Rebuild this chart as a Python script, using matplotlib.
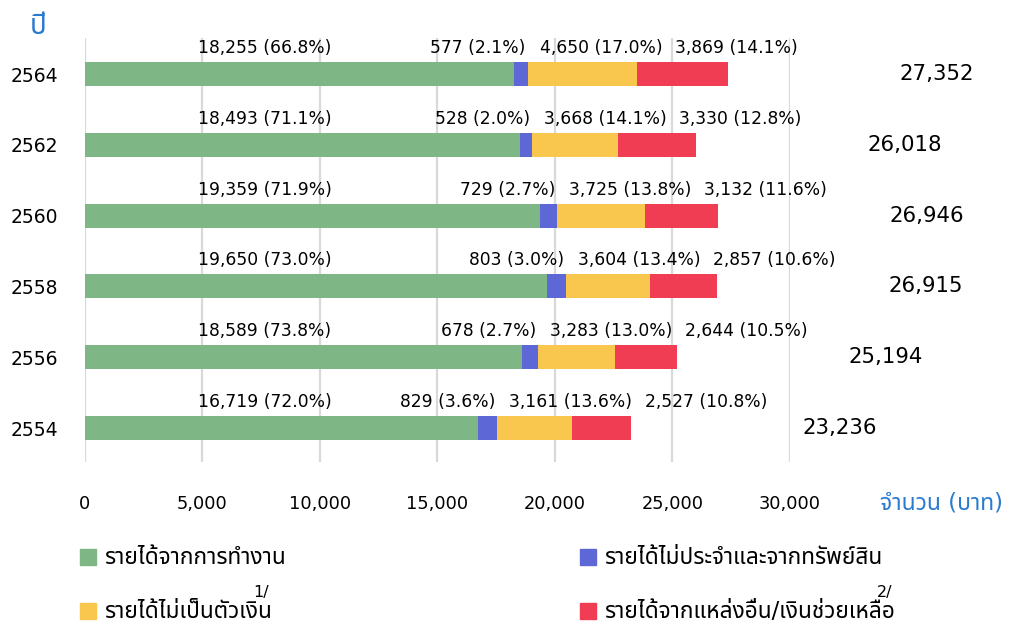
import matplotlib
matplotlib.use("Agg")
import matplotlib.pyplot as plt
from matplotlib import font_manager
from matplotlib.ft2font import FT2Font
from matplotlib.patches import Patch
from matplotlib.text import Annotation

# =============================================
# ข้อมูล: รายได้เฉลี่ยต่อเดือนต่อครัวเรือน (บาท)
# =============================================
years = ["2554", "2556", "2558", "2560", "2562", "2564"]
work = [16719, 18589, 19650, 19359, 18493, 18255]
work_pct = [72.0, 73.8, 73.0, 71.9, 71.1, 66.8]
irregular = [829, 678, 803, 729, 528, 577]
irregular_pct = [3.6, 2.7, 3.0, 2.7, 2.0, 2.1]
nonmoney = [3161, 3283, 3604, 3725, 3668, 4650]
nonmoney_pct = [13.6, 13.0, 13.4, 13.8, 14.1, 17.0]
other = [2527, 2644, 2857, 3132, 3330, 3869]
other_pct = [10.8, 10.5, 10.6, 11.6, 12.8, 14.1]
totals = [23236, 25194, 26915, 26946, 26018, 27352]

labels = ["รายได้จากการทำงาน", "รายได้ไม่ประจำและจากทรัพย์สิน",
          "รายได้ไม่เป็นตัวเงิน", "รายได้จากแหล่งอื่น/เงินช่วยเหลือ"]
colors = ["#7fb685", "#5d68d6", "#f9c64e", "#f03d53"]
x_ticks = [0, 5000, 10000, 15000, 20000, 25000, 30000]


# หาฟอนต์ที่มีอักษรไทย
def find_thai_font():
    prefer = ["Tahoma", "Noto Sans Thai", "Loma", "Garuda", "Sarabun", "Kinnari", "Norasi"]
    found = []
    for f in font_manager.fontManager.ttflist:
        try:
            if 0x0E23 in FT2Font(f.fname).get_charmap():
                found.append(f.name)
        except Exception:
            pass
    for p in prefer:
        if p in found:
            return p
    return found[0] if found else None


thai = find_thai_font()
fams = ["DejaVu Sans"] + ([thai] if thai else [])
plt.rcParams["font.family"] = fams

BLUE_TXT = "#2a7bd0"

fig = plt.figure(figsize=(10.19, 6.28), dpi=100)
ax = fig.add_axes([0.0834, 0.2643, 0.6918, 0.6752])

ypos = list(range(len(years)))
h = 0.34
left = [0] * len(years)
for vals, c in zip([work, irregular, nonmoney, other], colors):
    ax.barh(ypos, vals, left=left, height=h, color=c, zorder=3)
    left = [a + b for a, b in zip(left, vals)]

ax.set_xlim(0, 30000)
ax.set_ylim(-0.48, 5.51)
ax.set_xticks(x_ticks)
ax.set_xticklabels([f"{v:,}" for v in x_ticks], fontsize=12.8)
ax.set_yticks(ypos)
ax.set_yticklabels(years, fontsize=13.5)
ax.tick_params(axis="x", length=0, pad=24)
ax.tick_params(axis="y", length=0, pad=19)
ax.grid(axis="x", color="#d9d9d9", linewidth=1.6, zorder=0)
for s in ax.spines.values():
    s.set_visible(False)

# ป้ายข้อมูลแต่ละส่วน
fs = 12.3
for i in ypos:
    ty = i + 0.24
    ax.text(4800, ty, f"{work[i]:,} ({work_pct[i]:.1f}%)", fontsize=fs,
            ha="left", va="bottom")
    t_blue = ax.text(work[i] + irregular[i] - 80, ty,
                     f"{irregular[i]:,} ({irregular_pct[i]:.1f}%)",
                     fontsize=fs, ha="right", va="bottom")
    t_yel = ax.annotate(f"{nonmoney[i]:,} ({nonmoney_pct[i]:.1f}%)",
                        xy=(1, 0), xycoords=t_blue, xytext=(10, 0),
                        textcoords="offset points", fontsize=fs,
                        ha="left", va="bottom")
    ax.annotate(f"{other[i]:,} ({other_pct[i]:.1f}%)",
                xy=(1, 0), xycoords=t_yel, xytext=(9, 0),
                textcoords="offset points", fontsize=fs,
                ha="left", va="bottom")
    ax.text(totals[i] + 7300, i, f"{totals[i]:,}", fontsize=15.3,
            ha="left", va="center", clip_on=False)

fig.text(30 / 1019, 1 - 26 / 628, "ปี", color=BLUE_TXT, fontsize=20,
         ha="left", va="center")
fig.text(880 / 1019, 1 - 503 / 628, "จำนวน (บาท)", color=BLUE_TXT,
         fontsize=16.5, ha="left", va="center")

# คำอธิบายสัญลักษณ์
leg_pos = [(80, 558), (580, 558), (80, 612), (580, 612)]
legs = []
for lab, c, (px, py) in zip(labels, colors, leg_pos):
    lg = fig.legend(handles=[Patch(color=c)], labels=[lab], loc="center left",
                    bbox_to_anchor=(px / 1019, 1 - py / 628), frameon=False,
                    fontsize=16.3, handlelength=0.72, handleheight=0.72,
                    handletextpad=0.33, borderpad=0, borderaxespad=0)
    legs.append(lg)

for lg, sup in [(legs[2], "1/"), (legs[3], "2/")]:
    t = lg.get_texts()[0]
    ann = fig.add_artist(Annotation(
        sup, xy=(1, 1), xycoords=t, xytext=(-13, 0),
        textcoords="offset points", fontsize=11.5, ha="left", va="bottom"))
    ann.set_zorder(6)

fig.savefig("out.png", dpi=100)
